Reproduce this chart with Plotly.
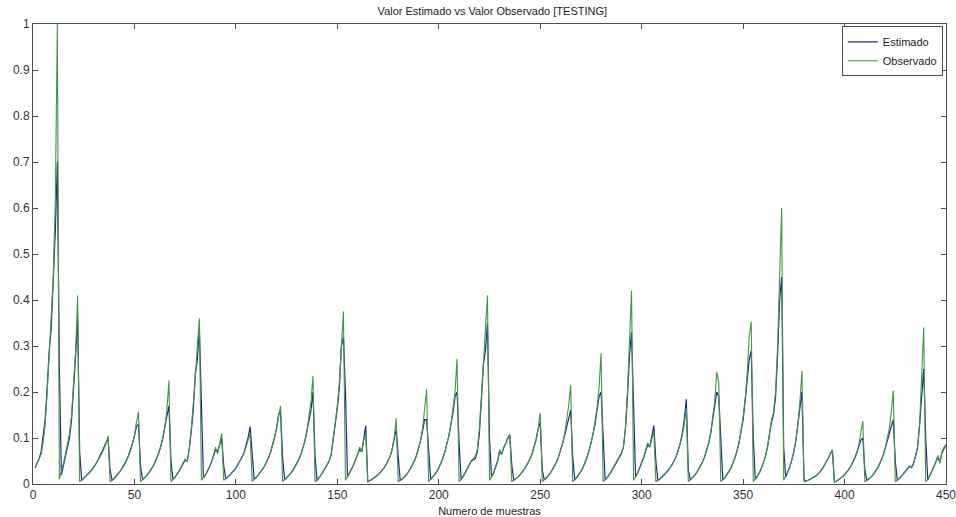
import plotly.graph_objects as go

# Observed values (one line per cycle), samples 1..450
observed = [
    0.035, 0.045, 0.055, 0.065, 0.09, 0.13, 0.2, 0.28, 0.37, 0.45, 0.62, 1.0,
    0.01, 0.025, 0.045, 0.065, 0.085, 0.11, 0.15, 0.21, 0.29, 0.41,
    0.005, 0.008, 0.012, 0.016, 0.02, 0.025, 0.03, 0.036, 0.043, 0.05, 0.058, 0.067, 0.077, 0.088, 0.105,
    0.005, 0.008, 0.012, 0.017, 0.022, 0.028, 0.034, 0.041, 0.05, 0.06, 0.072, 0.087, 0.105, 0.135, 0.157,
    0.005, 0.009, 0.013, 0.018, 0.024, 0.03, 0.037, 0.045, 0.055, 0.067, 0.082, 0.1, 0.125, 0.16, 0.225,
    0.005, 0.01, 0.015, 0.021, 0.028, 0.036, 0.045, 0.055, 0.048, 0.075, 0.12, 0.17, 0.23, 0.3, 0.36,
    0.008, 0.013, 0.02, 0.028, 0.037, 0.048, 0.062, 0.08, 0.065, 0.09, 0.11,
    0.008, 0.011, 0.015, 0.019, 0.024, 0.029, 0.035, 0.042, 0.05, 0.058, 0.068, 0.08, 0.095, 0.11,
    0.006, 0.01, 0.014, 0.019, 0.025, 0.031, 0.038, 0.046, 0.056, 0.068, 0.083, 0.1, 0.12, 0.145, 0.17,
    0.005, 0.009, 0.013, 0.018, 0.023, 0.029, 0.036, 0.044, 0.053, 0.064, 0.077, 0.093, 0.115, 0.145, 0.18, 0.235,
    0.005, 0.008, 0.013, 0.02, 0.027, 0.035, 0.043, 0.05, 0.065, 0.1, 0.13, 0.17, 0.22, 0.29, 0.375,
    0.008, 0.015, 0.023, 0.032, 0.042, 0.053, 0.065, 0.08, 0.07, 0.095, 0.11,
    0.005, 0.007, 0.01, 0.013, 0.016, 0.02, 0.024, 0.029, 0.035, 0.042, 0.05, 0.06, 0.075, 0.1, 0.143,
    0.005, 0.008, 0.011, 0.015, 0.02, 0.026, 0.033, 0.041, 0.05, 0.062, 0.077, 0.095, 0.12, 0.16, 0.206,
    0.005, 0.01, 0.015, 0.02, 0.027, 0.035, 0.045, 0.056, 0.07, 0.085, 0.105, 0.13, 0.16, 0.2, 0.272,
    0.005, 0.01, 0.016, 0.024, 0.033, 0.043, 0.05, 0.055, 0.06, 0.075, 0.12, 0.19, 0.27, 0.33, 0.41,
    0.008, 0.015, 0.024, 0.035, 0.05, 0.075, 0.065, 0.08, 0.09, 0.1, 0.107,
    0.005, 0.008, 0.011, 0.015, 0.02, 0.025, 0.031, 0.038, 0.046, 0.055, 0.066, 0.08, 0.097, 0.12, 0.155,
    0.005, 0.009, 0.013, 0.018, 0.024, 0.031, 0.039, 0.048, 0.059, 0.072, 0.088, 0.108, 0.135, 0.17, 0.215,
    0.005, 0.009, 0.014, 0.02, 0.027, 0.035, 0.045, 0.057, 0.071, 0.088, 0.108, 0.133, 0.165, 0.21, 0.284,
    0.005, 0.009, 0.014, 0.02, 0.027, 0.035, 0.044, 0.052, 0.06, 0.068, 0.08, 0.12, 0.2, 0.3, 0.42,
    0.008, 0.015, 0.024, 0.034, 0.045, 0.058, 0.075, 0.09, 0.08, 0.1, 0.115,
    0.005, 0.008, 0.011, 0.015, 0.019, 0.024, 0.029, 0.035, 0.042, 0.05, 0.06, 0.072, 0.087, 0.105, 0.13, 0.165,
    0.005, 0.009, 0.013, 0.018, 0.024, 0.031, 0.039, 0.048, 0.059, 0.072, 0.088, 0.11, 0.14, 0.18, 0.244, 0.22,
    0.005, 0.009, 0.014, 0.02, 0.027, 0.035, 0.045, 0.057, 0.072, 0.09, 0.115, 0.145, 0.185, 0.24, 0.32, 0.353,
    0.005, 0.01, 0.016, 0.024, 0.034, 0.046, 0.06, 0.08, 0.11, 0.14, 0.155, 0.2, 0.3, 0.45, 0.6,
    0.008, 0.015, 0.025, 0.037, 0.052, 0.07, 0.095, 0.13, 0.18, 0.246,
    0.005, 0.006, 0.008, 0.01, 0.012, 0.015, 0.018, 0.022, 0.027, 0.033, 0.04, 0.048, 0.056, 0.066, 0.075,
    0.004, 0.006, 0.009, 0.012, 0.016, 0.02, 0.025, 0.031, 0.038, 0.046, 0.056, 0.068, 0.085, 0.11, 0.137,
    0.005, 0.008, 0.011, 0.015, 0.02, 0.026, 0.033, 0.041, 0.05, 0.062, 0.077, 0.096, 0.12, 0.155, 0.203,
    0.005, 0.008, 0.012, 0.017, 0.022, 0.028, 0.033, 0.04, 0.035, 0.045, 0.06, 0.08, 0.13, 0.22, 0.34,
    0.005, 0.01, 0.018, 0.027, 0.037, 0.048, 0.062, 0.045, 0.07, 0.08, 0.085,
]

# Estimated values (one line per cycle), samples 1..450
estimated = [
    0.035, 0.045, 0.055, 0.07, 0.1, 0.14, 0.21, 0.29, 0.34, 0.44, 0.55, 0.70,
    0.25, 0.02, 0.04, 0.06, 0.08, 0.1, 0.14, 0.2, 0.28, 0.36,
    0.07, 0.008, 0.012, 0.016, 0.021, 0.026, 0.031, 0.037, 0.044, 0.052, 0.06, 0.07, 0.08, 0.09, 0.1,
    0.03, 0.008, 0.012, 0.017, 0.022, 0.028, 0.035, 0.042, 0.051, 0.061, 0.073, 0.088, 0.105, 0.125, 0.13,
    0.04, 0.009, 0.013, 0.018, 0.024, 0.03, 0.037, 0.046, 0.056, 0.068, 0.083, 0.1, 0.125, 0.15, 0.17,
    0.05, 0.01, 0.015, 0.021, 0.028, 0.036, 0.045, 0.052, 0.05, 0.075, 0.115, 0.16, 0.24, 0.27, 0.34,
    0.2, 0.013, 0.02, 0.028, 0.037, 0.048, 0.062, 0.075, 0.07, 0.085, 0.1,
    0.04, 0.011, 0.015, 0.019, 0.024, 0.029, 0.035, 0.042, 0.05, 0.058, 0.068, 0.082, 0.1, 0.125,
    0.06, 0.01, 0.014, 0.019, 0.025, 0.031, 0.038, 0.046, 0.056, 0.068, 0.083, 0.1, 0.12, 0.15, 0.16,
    0.06, 0.009, 0.013, 0.018, 0.023, 0.029, 0.036, 0.044, 0.053, 0.064, 0.077, 0.093, 0.115, 0.14, 0.16, 0.2,
    0.06, 0.008, 0.013, 0.02, 0.027, 0.035, 0.043, 0.05, 0.065, 0.095, 0.125, 0.165, 0.21, 0.3, 0.32,
    0.2, 0.015, 0.023, 0.032, 0.042, 0.053, 0.065, 0.075, 0.07, 0.1, 0.127,
    0.005, 0.007, 0.01, 0.013, 0.016, 0.02, 0.024, 0.029, 0.035, 0.042, 0.05, 0.06, 0.075, 0.1, 0.12,
    0.06, 0.008, 0.011, 0.015, 0.02, 0.026, 0.033, 0.041, 0.05, 0.062, 0.077, 0.093, 0.115, 0.14, 0.14,
    0.07, 0.01, 0.015, 0.02, 0.027, 0.035, 0.045, 0.056, 0.07, 0.085, 0.105, 0.13, 0.155, 0.19, 0.2,
    0.09, 0.01, 0.016, 0.024, 0.033, 0.043, 0.05, 0.052, 0.055, 0.07, 0.11, 0.18, 0.26, 0.29, 0.35,
    0.1, 0.015, 0.024, 0.035, 0.05, 0.07, 0.065, 0.078, 0.09, 0.1, 0.107,
    0.04, 0.008, 0.011, 0.015, 0.02, 0.025, 0.031, 0.038, 0.046, 0.055, 0.066, 0.08, 0.097, 0.12, 0.135,
    0.03, 0.009, 0.013, 0.018, 0.024, 0.031, 0.039, 0.048, 0.059, 0.072, 0.088, 0.105, 0.125, 0.145, 0.16,
    0.06, 0.009, 0.014, 0.02, 0.027, 0.035, 0.045, 0.057, 0.071, 0.088, 0.108, 0.13, 0.16, 0.19, 0.2,
    0.1, 0.009, 0.014, 0.02, 0.027, 0.035, 0.044, 0.05, 0.058, 0.066, 0.08, 0.12, 0.19, 0.28, 0.33,
    0.15, 0.015, 0.024, 0.034, 0.045, 0.058, 0.072, 0.085, 0.08, 0.105, 0.127,
    0.05, 0.008, 0.011, 0.015, 0.019, 0.024, 0.029, 0.035, 0.042, 0.05, 0.06, 0.072, 0.088, 0.11, 0.14, 0.184,
    0.03, 0.009, 0.013, 0.018, 0.024, 0.031, 0.039, 0.048, 0.059, 0.072, 0.088, 0.11, 0.14, 0.17, 0.2, 0.19,
    0.1, 0.009, 0.014, 0.02, 0.027, 0.035, 0.045, 0.057, 0.072, 0.09, 0.115, 0.14, 0.18, 0.22, 0.27, 0.29,
    0.1, 0.01, 0.016, 0.024, 0.034, 0.046, 0.06, 0.08, 0.105, 0.135, 0.15, 0.19, 0.28, 0.4, 0.45,
    0.08, 0.015, 0.025, 0.037, 0.052, 0.07, 0.095, 0.13, 0.17, 0.2,
    0.01, 0.006, 0.008, 0.01, 0.012, 0.015, 0.018, 0.022, 0.027, 0.033, 0.04, 0.048, 0.056, 0.066, 0.072,
    0.005, 0.006, 0.009, 0.012, 0.016, 0.02, 0.025, 0.031, 0.038, 0.046, 0.056, 0.068, 0.082, 0.095, 0.1,
    0.03, 0.008, 0.011, 0.015, 0.02, 0.026, 0.033, 0.041, 0.05, 0.062, 0.077, 0.093, 0.11, 0.13, 0.14,
    0.05, 0.008, 0.012, 0.017, 0.022, 0.028, 0.033, 0.038, 0.036, 0.045, 0.06, 0.08, 0.13, 0.2, 0.25,
    0.1, 0.01, 0.018, 0.027, 0.037, 0.048, 0.058, 0.048, 0.068, 0.078, 0.085,
]

samples = list(range(1, len(observed) + 1))
x_ticks = [0, 50, 100, 150, 200, 250, 300, 350, 400, 450]
y_ticks = [0, 0.1, 0.2, 0.3, 0.4, 0.5, 0.6, 0.7, 0.8, 0.9, 1]
y_tick_labels = ["0", "0.1", "0.2", "0.3", "0.4", "0.5", "0.6", "0.7", "0.8", "0.9", "1"]

FONT = "Liberation Sans, Arial, sans-serif"
AXIS_COLOR = "#4d4d4d"

fig = go.Figure()
fig.add_trace(go.Scatter(x=samples, y=estimated, mode="lines", name="Estimado",
                         line=dict(color="#1a2a8a", width=1.2)))
fig.add_trace(go.Scatter(x=samples, y=observed, mode="lines", name="Observado",
                         line=dict(color="#459645", width=1.1)))

axis_common = dict(showline=True, linecolor=AXIS_COLOR, linewidth=1, mirror="allticks",
                   ticks="inside", ticklen=5, tickcolor=AXIS_COLOR, showgrid=False,
                   zeroline=False, automargin=False, ticklabeloverflow="allow",
                   tickfont=dict(family=FONT, size=12, color="#333333"))

fig.update_layout(
    width=956, height=517,
    margin=dict(l=33, r=10, t=24, b=33, autoexpand=False),
    paper_bgcolor="white", plot_bgcolor="white",
    title=dict(text="Valor Estimado vs Valor Observado [TESTING]", x=0.515, xanchor="center",
               y=0.985, yanchor="top", font=dict(family=FONT, size=11, color="#222222")),
    xaxis=dict(range=[0, 450], tickmode="array", tickvals=x_ticks,
               title=dict(text="Numero de muestras",
                          font=dict(family=FONT, size=11, color="#222222")),
               **axis_common),
    yaxis=dict(range=[0, 1], tickmode="array", tickvals=y_ticks, ticktext=y_tick_labels,
               **axis_common),
    legend=dict(x=0.9965, y=0.995, xanchor="right", yanchor="top", bgcolor="white",
                bordercolor=AXIS_COLOR, borderwidth=1,
                font=dict(family=FONT, size=11, color="#222222"),
                tracegroupgap=0, itemwidth=30),
    showlegend=True,
)

fig.write_html("out.html")
